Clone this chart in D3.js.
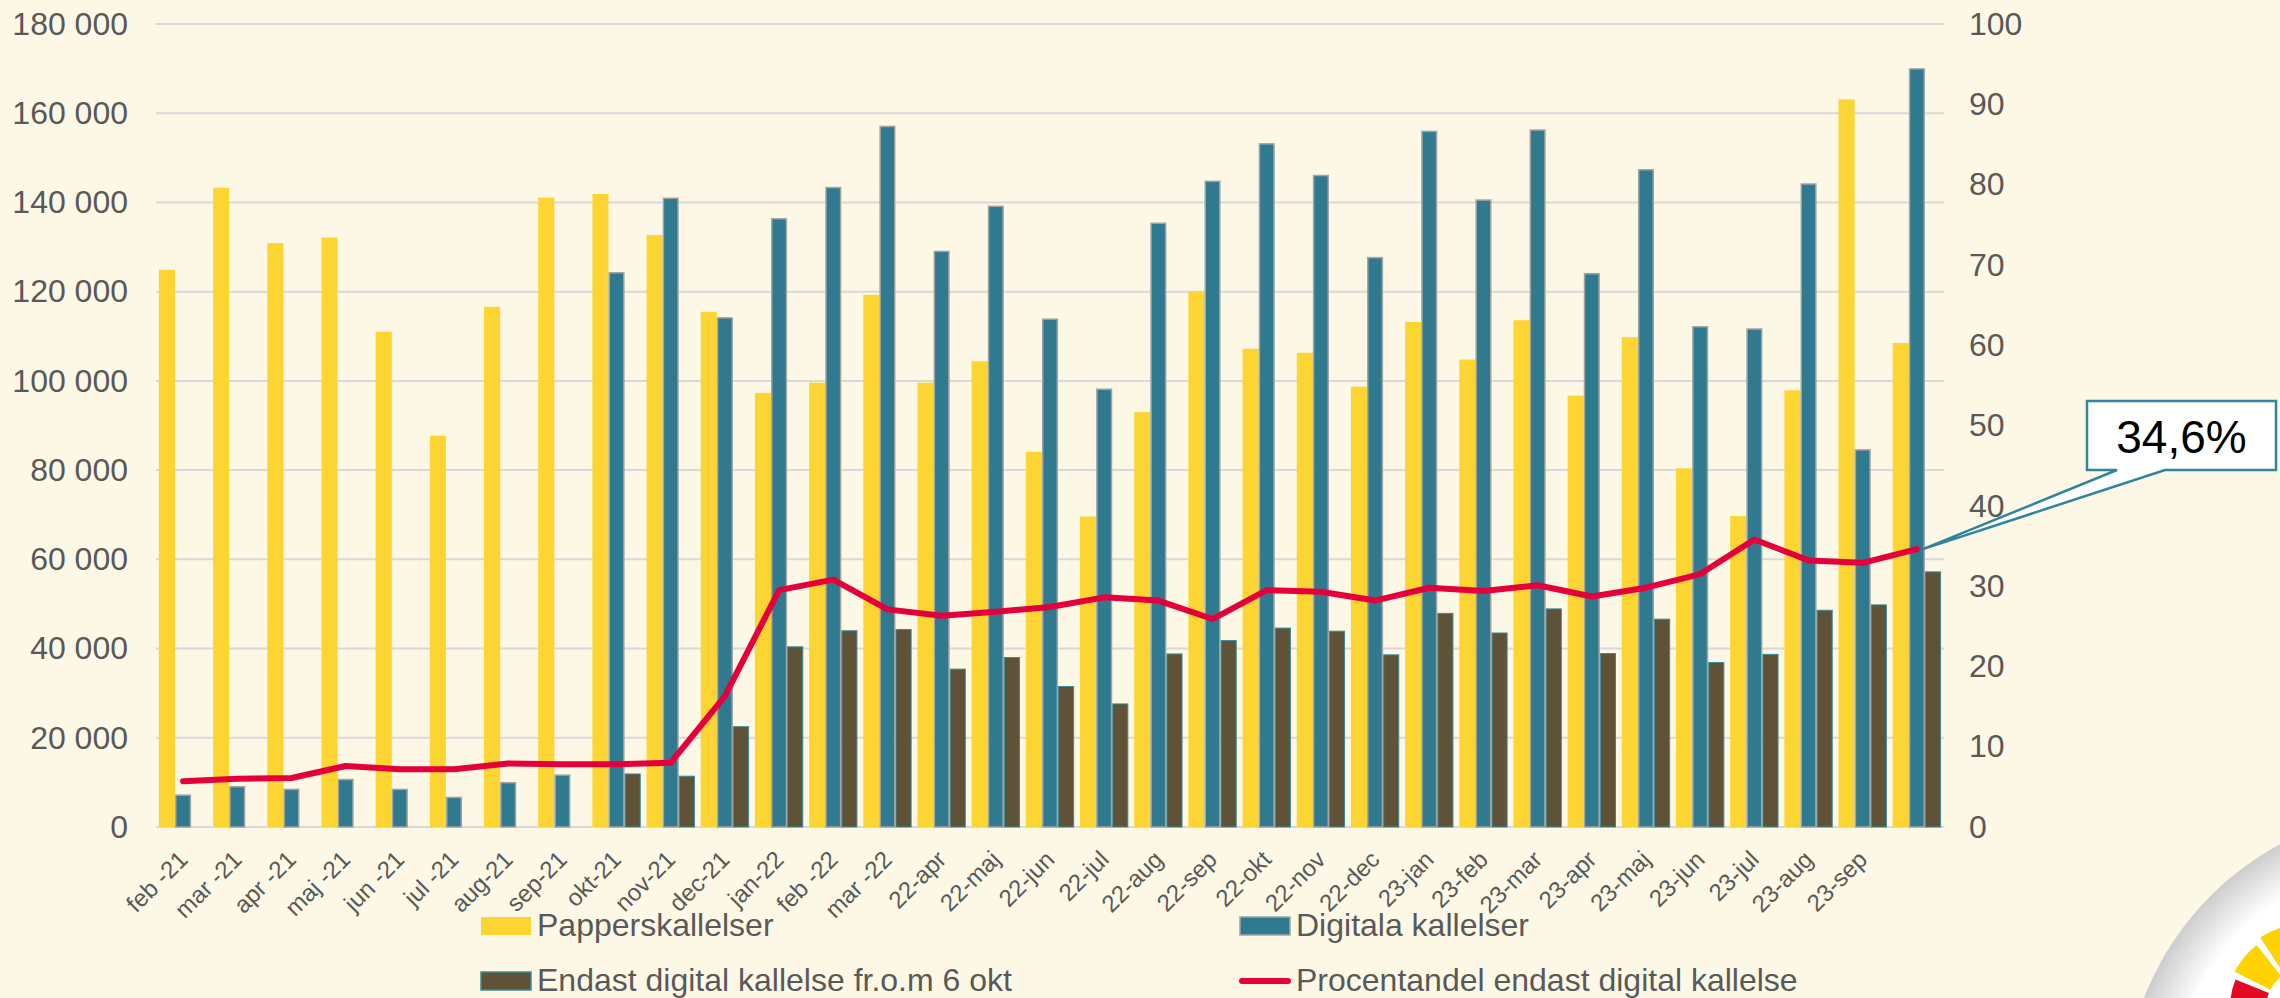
<!DOCTYPE html>
<html>
<head>
<meta charset="utf-8">
<script src="https://cdn.jsdelivr.net/npm/d3@7"></script>
<style>
  html, body { margin: 0; padding: 0; background: #FDF8E5; }
  svg { display: block; }
  text { font-family: "Liberation Sans", Arial, sans-serif; }
</style>
</head>
<body>
<svg id="chart" width="2280" height="998"></svg>
<script>
// ---------- DATA ----------
const categories = ["feb -21","mar -21","apr -21","maj -21","jun -21","jul -21","aug-21","sep-21","okt-21","nov-21","dec-21","jan-22","feb -22","mar -22","22-apr","22-maj","22-jun","22-jul","22-aug","22-sep","22-okt","22-nov","22-dec","23-jan","23-feb","23-mar","23-apr","23-maj","23-jun","23-jul","23-aug","23-sep",""];
const papperskallelser = [124900,143300,130900,132100,111000,87700,116600,141100,141900,132700,115500,97300,99600,119300,99600,104400,84100,69600,93000,120100,107200,106300,98700,113200,104800,113600,96700,109800,80400,69700,97900,163100,108500];
const digitalaKallelser = [7300,9200,8600,10800,8600,6800,10100,11800,124400,141100,114300,136500,143500,157200,129200,139300,114000,98300,135500,144900,153300,146200,127800,156100,140700,156400,124200,147500,112300,111800,144300,84700,170100];
const endastDigital = [null,null,null,null,null,null,null,null,12000,11500,22600,40500,44100,44400,35500,38100,31600,27700,38900,41900,44700,44000,38700,48000,43600,49000,39000,46700,37000,38800,48700,49900,57300];
const procentandel = [5.7,6.0,6.1,7.6,7.2,7.2,7.9,7.8,7.8,8.0,16.3,29.5,30.8,27.1,26.3,26.8,27.4,28.6,28.2,25.9,29.5,29.3,28.2,29.8,29.4,30.1,28.7,29.8,31.5,35.8,33.2,32.9,34.6];
const leftTicks = [0,20000,40000,60000,80000,100000,120000,140000,160000,180000];
const rightTicks = [0,10,20,30,40,50,60,70,80,90,100];
const seriesNames = ["Papperskallelser","Digitala kallelser","Endast digital kallelse fr.o.m 6 okt","Procentandel endast digital kallelse"];
const calloutText = "34,6%";

// ---------- STYLE ----------
const C = {
  bg: "#FDF8E5", grid: "#D9D9D9", text: "#595959",
  yellow: "#FDD533", teal: "#2F7A8E", dark: "#5F5237",
  tealBorder: "#A3A3A3", darkBorder: "#3A8B9B", red: "#E4003B", callout: "#31849B"
};
const M = { left: 156, right: 1944, top: 24, bottom: 827 };

const svg = d3.select("#chart");
svg.append("rect").attr("width", 2280).attr("height", 998).attr("fill", C.bg);

// ---------- LOGO (bottom right) ----------
const defs = svg.append("defs");
const rg = defs.append("radialGradient").attr("id", "logoGrad")
  .attr("cx", "50%").attr("cy", "50%").attr("r", "50%");
rg.append("stop").attr("offset", "0%").attr("stop-color", "#ffffff");
rg.append("stop").attr("offset", "84%").attr("stop-color", "#ffffff");
rg.append("stop").attr("offset", "100%").attr("stop-color", "#cdcdcd");
svg.append("circle").attr("cx", 2420).attr("cy", 1105).attr("r", 296).attr("fill", "url(#logoGrad)");
const arc = d3.arc();
const logoC = [2306, 1008];
const deg = a => a * Math.PI / 180;
const logoSegs = [
  { a0: 250, a1: 262, r0: 38, r1: 74, c: "#E30B24" },
  { a0: 266, a1: 292, r0: 40, r1: 76, c: "#E30B24" },
  { a0: 297, a1: 322, r0: 40, r1: 80, c: "#FFD200" },
  { a0: 327, a1: 352, r0: 40, r1: 84, c: "#FFD200" }
];
svg.append("g").attr("transform", `translate(${logoC})`).selectAll("path").data(logoSegs).join("path")
  .attr("d", d => arc({ innerRadius: d.r0, outerRadius: d.r1, startAngle: deg(d.a0), endAngle: deg(d.a1) }))
  .attr("fill", d => d.c);

// ---------- SCALES ----------
const idx = d3.range(categories.length);
const x0 = d3.scaleBand().domain(idx).range([M.left, M.right]).paddingInner(0.108).paddingOuter(0.054);
const x1 = d3.scaleBand().domain([0, 1, 2]).range([0, x0.bandwidth()]);
const yL = d3.scaleLinear().domain([0, 180000]).range([M.bottom, M.top]);
const yR = d3.scaleLinear().domain([0, 100]).range([M.bottom, M.top]);

// ---------- GRID ----------
svg.append("g").selectAll("line").data(leftTicks).join("line")
  .attr("x1", M.left).attr("x2", M.right)
  .attr("y1", d => yL(d)).attr("y2", d => yL(d))
  .attr("stroke", C.grid).attr("stroke-width", 2);

// ---------- AXES ----------
const fmt = v => d3.format(",")(v).replace(/,/g, "\u00a0");
const axL = svg.append("g").attr("transform", `translate(${M.left},0)`)
  .call(d3.axisLeft(yL).tickValues(leftTicks).tickFormat(fmt).tickSize(0).tickPadding(28));
axL.select(".domain").remove();
axL.selectAll("text").attr("font-size", 32).attr("fill", C.text)
  .attr("font-family", "Liberation Sans, Arial, sans-serif");

const axR = svg.append("g").attr("transform", `translate(${M.right},0)`)
  .call(d3.axisRight(yR).tickValues(rightTicks).tickSize(0).tickPadding(25));
axR.select(".domain").remove();
axR.selectAll("text").attr("font-size", 32).attr("fill", C.text)
  .attr("font-family", "Liberation Sans, Arial, sans-serif");

const axB = svg.append("g").attr("transform", `translate(0,${M.bottom})`)
  .call(d3.axisBottom(x0).tickFormat(i => categories[i]).tickSize(0));
axB.select(".domain").remove();
axB.selectAll("text")
  .attr("font-size", 24).attr("fill", C.text)
  .attr("font-family", "Liberation Sans, Arial, sans-serif")
  .attr("text-anchor", "end")
  .attr("dy", null).attr("y", 0)
  .attr("transform", "translate(6,34) rotate(-45)");

// ---------- BARS ----------
const groups = svg.append("g").selectAll("g").data(idx).join("g")
  .attr("transform", i => `translate(${x0(i)},0)`);

groups.append("rect")
  .attr("x", x1(0)).attr("width", x1.bandwidth())
  .attr("y", i => yL(papperskallelser[i])).attr("height", i => yL(0) - yL(papperskallelser[i]))
  .attr("fill", C.yellow);

groups.append("rect")
  .attr("x", x1(1) + 0.75).attr("width", x1.bandwidth() - 1.5)
  .attr("y", i => yL(digitalaKallelser[i]) + 0.75).attr("height", i => yL(0) - yL(digitalaKallelser[i]) - 0.75)
  .attr("fill", C.teal).attr("stroke", C.tealBorder).attr("stroke-width", 1.5);

groups.filter(i => endastDigital[i] != null).append("rect")
  .attr("x", x1(2) + 0.5).attr("width", x1.bandwidth() - 1)
  .attr("y", i => yL(endastDigital[i]) + 0.5).attr("height", i => yL(0) - yL(endastDigital[i]) - 0.5)
  .attr("fill", C.dark).attr("stroke", C.darkBorder).attr("stroke-width", 1);

// ---------- LINE ----------
const cx = i => x0(i) + x0.bandwidth() / 2;
const line = d3.line().x(i => cx(i)).y(i => yR(procentandel[i]));
svg.append("path").datum(idx).attr("d", line)
  .attr("fill", "none").attr("stroke", C.red).attr("stroke-width", 6)
  .attr("stroke-linejoin", "round").attr("stroke-linecap", "round");

// ---------- CALLOUT ----------
const last = idx[idx.length - 1];
const tipX = cx(last) + 6, tipY = yR(procentandel[last]);
const bx0 = 2087, bx1 = 2276, by0 = 401, by1 = 470;
const cpath = d3.path();
cpath.moveTo(bx0, by0); cpath.lineTo(bx1, by0); cpath.lineTo(bx1, by1);
cpath.lineTo(2165, by1); cpath.lineTo(tipX, tipY); cpath.lineTo(2117, by1);
cpath.lineTo(bx0, by1); cpath.closePath();
svg.append("path").attr("d", cpath.toString()).attr("fill", "#ffffff")
  .attr("stroke", C.callout).attr("stroke-width", 2.5).attr("stroke-linejoin", "miter");
svg.append("text").attr("x", (bx0 + bx1) / 2).attr("y", 453).attr("text-anchor", "middle")
  .attr("font-size", 46).attr("fill", "#000").text(calloutText);

// ---------- LEGEND ----------
const leg = svg.append("g").attr("font-size", 32).attr("fill", C.text);
const legItems = [
  { name: seriesNames[0], x: 481, y: 926, type: "rect", fill: C.yellow, stroke: "none" },
  { name: seriesNames[1], x: 1240, y: 926, type: "rect", fill: C.teal, stroke: C.tealBorder },
  { name: seriesNames[2], x: 481, y: 981, type: "rect", fill: C.dark, stroke: C.darkBorder },
  { name: seriesNames[3], x: 1240, y: 981, type: "line", fill: C.red }
];
legItems.forEach(d => {
  if (d.type === "rect") {
    leg.append("rect").attr("x", d.x).attr("y", d.y - 9).attr("width", 50).attr("height", 18)
      .attr("fill", d.fill).attr("stroke", d.stroke).attr("stroke-width", d.stroke === "none" ? 0 : 1.5);
  } else {
    leg.append("line").attr("x1", d.x + 2).attr("x2", d.x + 48).attr("y1", d.y).attr("y2", d.y)
      .attr("stroke", d.fill).attr("stroke-width", 6).attr("stroke-linecap", "round");
  }
  leg.append("text").attr("x", d.x + 56).attr("y", d.y + 10).text(d.name);
});
</script>
</body>
</html>
